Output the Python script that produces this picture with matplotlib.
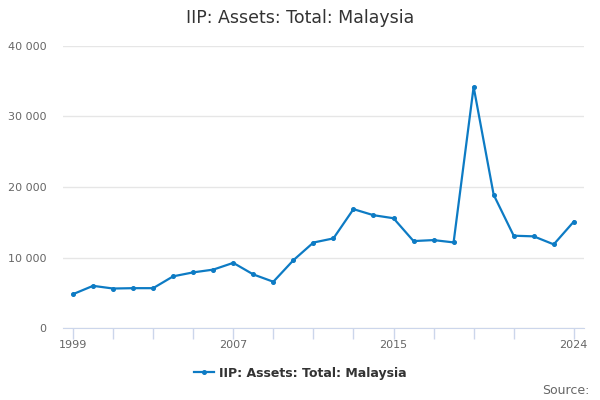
import matplotlib
matplotlib.use("Agg")
import matplotlib.pyplot as plt
from matplotlib.ticker import FuncFormatter

# Data
years = list(range(1999, 2025))
values = [4800, 5980, 5600, 5650, 5650, 7330, 7890, 8280, 9240, 7600,
          6560, 9610, 12120, 12710, 16860, 16000, 15570, 12330, 12470, 12140,
          34200, 18900, 13090, 13000, 11860, 15090]
tick_years = [1999, 2001, 2003, 2005, 2007, 2009, 2011, 2013, 2015, 2017, 2019, 2021, 2024]
label_years = [1999, 2007, 2015, 2024]
y_ticks = [0, 10000, 20000, 30000, 40000]

title = "IIP: Assets: Total: Malaysia"
line_color = "#0d7bc4"

fig = plt.figure(figsize=(6, 4), dpi=100)
ax = fig.add_axes([0.105, 0.18, 0.868, 0.705])

ax.plot(years, values, color=line_color, linewidth=1.6, marker="o",
        markersize=2.6, label=title, zorder=3)

ax.set_xlim(1998.5, 2024.5)
ax.set_ylim(0, 40000)
ax.set_yticks(y_ticks)
ax.yaxis.set_major_formatter(FuncFormatter(lambda v, p: f"{int(v):,}".replace(",", " ")))
ax.grid(axis="y", color="#e6e6e6", linewidth=1)
ax.set_axisbelow(True)

ax.set_xticks(tick_years)
ax.set_xticklabels([str(y) if y in label_years else "" for y in tick_years])
ax.tick_params(axis="x", length=8, width=1, color="#ccd6eb", labelsize=8,
               labelcolor="#666666", pad=1)
ax.tick_params(axis="y", length=0, labelsize=8, labelcolor="#666666", pad=12)

for side in ["top", "right", "left"]:
    ax.spines[side].set_visible(False)
ax.spines["bottom"].set_color("#ccd6eb")

fig.text(0.5, 0.955, title, ha="center", va="center", fontsize=12.5, color="#333333")

leg = fig.legend(loc="center", bbox_to_anchor=(0.5, 0.067), frameon=False,
                 prop={"weight": "bold", "size": 9}, handlelength=1.6,
                 handletextpad=0.4)
for t in leg.get_texts():
    t.set_color("#333333")

fig.text(0.983, 0.025, "Source:", ha="right", va="center", fontsize=9, color="#666666")

fig.savefig("out.png", dpi=100)
